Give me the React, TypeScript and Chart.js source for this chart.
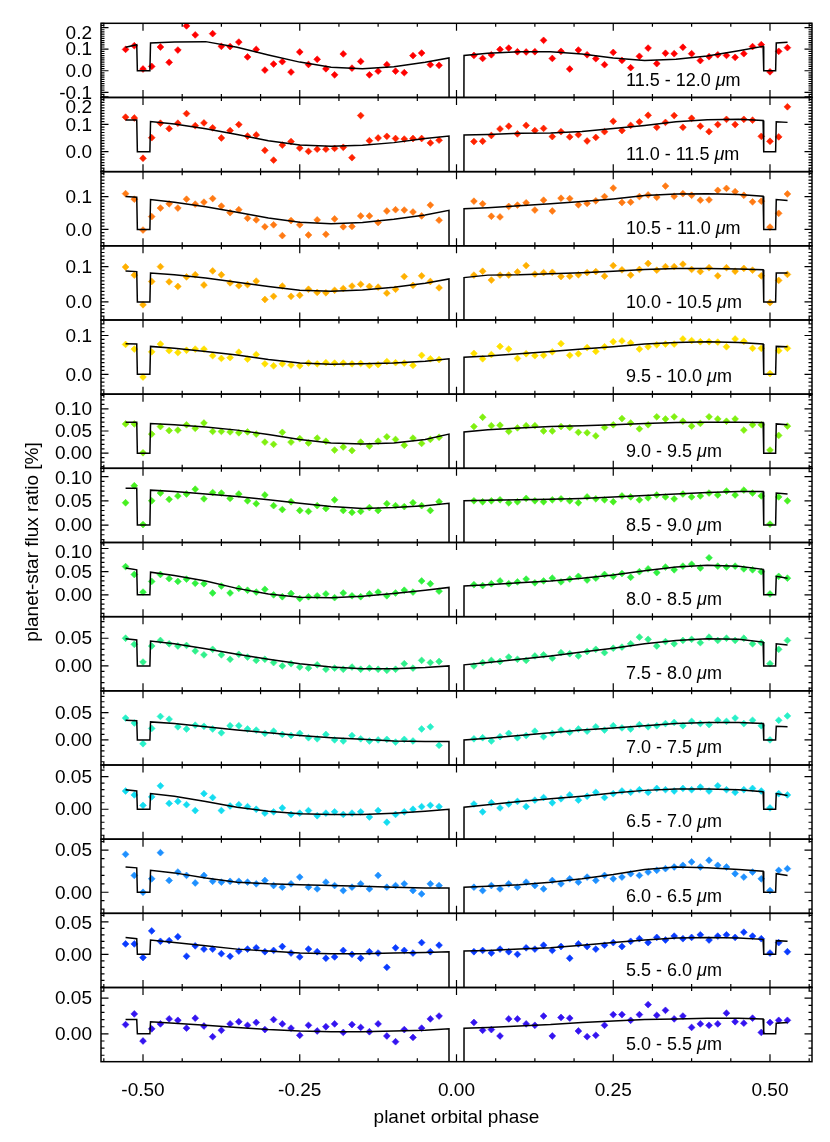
import React, { useEffect, useRef } from 'react';
import { Chart, registerables } from 'chart.js';

Chart.register(...registerables);

// ---------- data ----------
const phaseLeft = [
  -0.5278, -0.5139, -0.5, -0.4861, -0.4722, -0.4583, -0.4444, -0.4306, -0.4167, -0.4028,
  -0.3889, -0.375, -0.3611, -0.3472, -0.3333, -0.3194, -0.3056, -0.2917, -0.2778, -0.2639,
  -0.25, -0.2361, -0.2222, -0.2083, -0.1944, -0.1806, -0.1667, -0.1528, -0.1389, -0.125,
  -0.1111, -0.0972, -0.0833, -0.0694, -0.0556, -0.0417, -0.0278,
];
const phaseRight = [
  0.0278, 0.0417, 0.0556, 0.0694, 0.0833, 0.0972, 0.1111, 0.125, 0.1389, 0.1528,
  0.1667, 0.1806, 0.1944, 0.2083, 0.2222, 0.2361, 0.25, 0.2639, 0.2778, 0.2917,
  0.3056, 0.3194, 0.3333, 0.3472, 0.3611, 0.375, 0.3889, 0.4028, 0.4167, 0.4306,
  0.4444, 0.4583, 0.4722, 0.4861, 0.5, 0.5139, 0.5278,
];

const modelPhase = [
  -0.5278, -0.51, -0.488, -0.45, -0.4, -0.35, -0.3, -0.25, -0.2, -0.15, -0.1, -0.05, -0.012,
  0.012, 0.05, 0.1, 0.15, 0.2, 0.25, 0.3, 0.35, 0.4, 0.45, 0.489, 0.51, 0.528,
];
const eclipseLeftPhase = [-0.509, -0.489];
const eclipseRightPhase = [0.49, 0.509];
const transitPhase = [-0.011, 0.011];
const eclipseDepth = 0;
const transitDepth = -1;

const bandLabels = [
  '11.5 - 12.0', '11.0 - 11.5', '10.5 - 11.0', '10.0 - 10.5', '9.5 - 10.0', '9.0 - 9.5',
  '8.5 - 9.0', '8.0 - 8.5', '7.5 - 8.0', '7.0 - 7.5', '6.5 - 7.0', '6.0 - 6.5', '5.5 - 6.0', '5.0 - 5.5',
];
const bandColors = [
  '#ff0000', '#ff2200', '#ff7a14', '#ffb000', '#ffe000', '#80f010', '#48f020',
  '#30f040', '#30f08c', '#28f0c8', '#14dcf0', '#1e90ff', '#0a3cff', '#3414f0',
];

const yRanges = [
  [-0.124, 0.22], [-0.073, 0.198], [-0.05, 0.176], [-0.051, 0.159], [-0.051, 0.14],
  [-0.034, 0.133], [-0.036, 0.117], [-0.047, 0.113], [-0.045, 0.089], [-0.046, 0.09],
  [-0.046, 0.068], [-0.025, 0.063], [-0.051, 0.063], [-0.039, 0.065],
];
const yTickValues = [
  [-0.1, 0, 0.1, 0.2], [0, 0.1, 0.2], [0, 0.1], [0, 0.1], [0, 0.1],
  [0, 0.05, 0.1], [0, 0.05, 0.1], [0, 0.05, 0.1], [0, 0.05], [0, 0.05],
  [0, 0.05], [0, 0.05], [0, 0.05], [0, 0.05],
];
const yTickLabels = [
  ['-0.1', '0.0', '0.1', '0.2'], ['0.0', '0.1', '0.2'], ['0.0', '0.1'], ['0.0', '0.1'], ['0.0', '0.1'],
  ['0.00', '0.05', '0.10'], ['0.00', '0.05', '0.10'], ['0.00', '0.05', '0.10'], ['0.00', '0.05'], ['0.00', '0.05'],
  ['0.00', '0.05'], ['0.00', '0.05'], ['0.00', '0.05'], ['0.00', '0.05'],
];
const yMinorStep = [0.01, 0.01, 0.01, 0.01, 0.01, 0.01, 0.01, 0.01, 0.01, 0.01, 0.01, 0.01, 0.01, 0.01];

const xTickValues = [
  -0.5625, -0.5, -0.4375, -0.375, -0.3125, -0.25, -0.1875, -0.125, -0.0625, 0,
  0.0625, 0.125, 0.1875, 0.25, 0.3125, 0.375, 0.4375, 0.5, 0.5625,
];
const xMajorValues = [-0.5, -0.25, 0, 0.25, 0.5];
const xMajorLabels = ['-0.50', '-0.25', '0.00', '0.25', '0.50'];

// planet-star flux ratio [%], left half (37) then right half (37)
const flux1 = [
  0.099, 0.116, 0.008, 0.020, 0.110, 0.039, 0.096, 0.208, 0.166, null, 0.172, 0.113, 0.112, 0.133, 0.064, 0.099, 0.003, 0.031, 0.042, -0.006,
  0.087, 0.029, 0.053, 0.009, -0.019, 0.078, 0.012, 0.043, -0.019, -0.002, 0.028, -0.002, -0.009, 0.070, 0.082, 0.028, 0.025,
  0.071, 0.057, 0.074, 0.099, 0.105, 0.088, 0.087, 0.088, 0.141, 0.057, 0.090, 0.008, 0.096, 0.074, 0.056, 0.028, 0.085, 0.048, 0.014, 0.067,
  0.105, 0.033, 0.081, 0.079, 0.109, 0.079, 0.047, 0.065, 0.074, 0.071, 0.062, 0.079, 0.112, 0.121, -0.005, 0.090, 0.107,
];
const flux2 = [
  0.126, 0.123, -0.024, 0.051, 0.104, 0.084, 0.104, 0.139, 0.095, 0.105, 0.087, 0.050, 0.077, 0.099, 0.057, 0.061, 0.005, -0.031, 0.024, 0.037,
  0.013, 0.001, 0.009, 0.009, 0.012, 0.016, -0.022, 0.132, 0.040, 0.050, 0.056, 0.048, 0.046, 0.048, 0.048, 0.032, 0.042,
  0.037, 0.038, 0.059, 0.083, 0.093, 0.065, 0.096, 0.077, 0.085, 0.055, 0.073, 0.054, 0.062, 0.039, 0.052, 0.073, 0.111, 0.077, 0.096, 0.109,
  0.133, 0.089, 0.107, 0.132, 0.089, 0.122, 0.093, 0.073, 0.099, 0.118, 0.099, 0.118, 0.115, 0.056, 0.038, 0.054, 0.164,
];
const flux3 = [
  0.109, 0.092, -0.002, 0.039, 0.065, 0.078, 0.065, 0.092, 0.077, 0.083, 0.094, 0.071, 0.051, 0.060, 0.034, 0.029, 0.008, 0.014, -0.019, 0.027,
  0.014, -0.017, 0.029, -0.015, 0.032, 0.008, 0.009, 0.041, 0.041, 0.021, 0.056, 0.060, 0.059, 0.053, 0.041, 0.074, 0.028,
  0.086, 0.078, 0.040, 0.038, 0.070, 0.074, 0.081, 0.059, 0.089, 0.056, 0.095, 0.094, 0.075, 0.079, 0.087, 0.100, 0.126, 0.082, 0.083, 0.100,
  0.105, 0.098, 0.132, 0.101, 0.109, 0.104, 0.089, 0.090, 0.119, 0.125, 0.115, 0.104, 0.084, 0.086, 0.007, 0.049, 0.108,
];
const flux4 = [
  0.099, 0.076, -0.008, 0.058, 0.100, 0.057, 0.044, 0.071, 0.077, 0.048, 0.088, 0.077, 0.054, 0.046, 0.049, 0.059, 0.007, 0.016, 0.045, 0.016,
  0.019, 0.036, 0.027, 0.026, 0.033, 0.038, 0.045, 0.050, 0.044, 0.042, 0.025, 0.036, 0.072, 0.047, 0.074, 0.058, 0.040,
  0.076, 0.087, 0.062, 0.076, 0.076, 0.085, 0.103, 0.079, 0.083, 0.084, 0.072, 0.073, 0.077, 0.083, 0.086, 0.073, 0.103, 0.091, 0.076, 0.092,
  0.109, 0.090, 0.100, 0.100, 0.107, 0.092, 0.086, 0.097, 0.074, 0.097, 0.087, 0.095, 0.090, 0.074, -0.002, 0.061, 0.078,
];
const flux5 = [
  0.077, 0.065, -0.007, 0.058, 0.078, 0.061, 0.056, 0.062, 0.065, 0.065, 0.048, 0.041, 0.043, 0.057, 0.039, 0.051, 0.027, 0.022, 0.027, 0.024,
  0.022, 0.029, 0.027, 0.030, 0.029, 0.029, 0.027, 0.028, 0.023, 0.025, 0.033, 0.030, 0.029, 0.023, 0.049, 0.040, 0.038,
  0.054, 0.040, 0.051, 0.072, 0.065, 0.041, 0.053, 0.048, 0.049, 0.058, 0.079, 0.049, 0.053, 0.069, 0.059, 0.071, 0.084, 0.086, 0.081, 0.065,
  0.071, 0.076, 0.078, 0.078, 0.091, 0.087, 0.084, 0.084, 0.083, 0.071, 0.091, 0.085, 0.067, 0.067, 0.002, 0.061, 0.067,
];
const flux6 = [
  0.066, 0.066, 0.001, 0.043, 0.060, 0.051, 0.052, 0.064, 0.056, 0.068, 0.049, 0.049, 0.048, 0.046, 0.048, 0.043, 0.025, 0.020, 0.047, 0.025,
  0.033, 0.023, 0.034, 0.027, 0.007, 0.014, 0.006, 0.025, 0.016, 0.027, 0.037, 0.031, 0.018, 0.034, 0.022, 0.031, 0.036,
  0.060, 0.081, 0.062, 0.063, 0.049, 0.057, 0.062, 0.062, 0.050, 0.050, 0.060, 0.058, 0.047, 0.046, 0.039, 0.058, 0.064, 0.078, 0.068, 0.055,
  0.064, 0.082, 0.077, 0.082, 0.072, 0.061, 0.067, 0.082, 0.077, 0.072, 0.077, 0.052, 0.064, 0.064, 0.007, 0.040, 0.061,
];
const flux7 = [
  0.046, 0.081, 0.001, 0.050, 0.066, 0.053, 0.060, 0.064, 0.074, 0.054, 0.067, 0.066, 0.055, 0.064, 0.050, 0.044, 0.062, 0.040, 0.032, 0.048,
  0.030, 0.028, 0.040, 0.034, 0.052, 0.030, 0.026, 0.028, 0.036, 0.030, 0.044, 0.040, 0.038, 0.046, 0.040, 0.030, 0.048,
  0.050, 0.048, 0.050, 0.052, 0.046, 0.048, 0.055, 0.050, 0.048, 0.052, 0.054, 0.050, 0.046, 0.058, 0.054, 0.052, 0.048, 0.060, 0.058, 0.052,
  0.056, 0.062, 0.058, 0.054, 0.064, 0.058, 0.060, 0.066, 0.062, 0.070, 0.062, 0.072, 0.066, 0.060, 0.002, 0.058, 0.050,
];
const flux8 = [
  0.061, 0.044, 0.006, 0.029, 0.044, 0.035, 0.029, 0.034, 0.025, 0.024, 0.004, 0.019, 0.004, 0.014, 0.010, 0.006, 0.012, 0.000, -0.004, 0.003,
  -0.008, -0.004, -0.002, 0.002, -0.006, 0.004, -0.002, -0.004, 0.002, 0.006, -0.002, 0.004, 0.010, 0.006, 0.030, 0.024, 0.008,
  0.022, 0.020, 0.024, 0.030, 0.024, 0.028, 0.034, 0.026, 0.030, 0.036, 0.028, 0.034, 0.040, 0.032, 0.036, 0.044, 0.040, 0.046, 0.038, 0.050,
  0.056, 0.048, 0.060, 0.054, 0.062, 0.066, 0.058, 0.080, 0.062, 0.060, 0.062, 0.056, 0.054, 0.050, 0.002, 0.040, 0.036,
];
const flux9 = [
  0.050, 0.039, 0.007, 0.036, 0.046, 0.040, 0.036, 0.037, 0.027, 0.020, 0.030, 0.020, 0.012, 0.021, 0.016, 0.010, 0.012, 0.006, 0.000, 0.004,
  -0.002, -0.004, 0.002, -0.006, -0.004, -0.006, -0.002, -0.006, -0.004, -0.006, -0.008, -0.006, 0.004, -0.004, 0.010, 0.006, 0.008,
  0.000, 0.006, 0.010, 0.008, 0.016, 0.012, 0.010, 0.018, 0.020, 0.014, 0.024, 0.022, 0.018, 0.026, 0.030, 0.024, 0.032, 0.034, 0.040, 0.052,
  0.048, 0.036, 0.044, 0.040, 0.046, 0.048, 0.042, 0.052, 0.046, 0.050, 0.046, 0.050, 0.040, 0.042, 0.004, 0.030, 0.046,
];
const flux10 = [
  0.040, 0.031, -0.007, 0.021, 0.043, 0.038, 0.024, 0.020, 0.027, 0.025, 0.020, 0.013, 0.026, 0.026, 0.020, 0.018, 0.012, 0.016, 0.010, 0.008,
  0.012, 0.004, 0.002, 0.010, 0.000, -0.002, 0.008, 0.002, -0.002, 0.000, 0.001, -0.004, 0.001, -0.002, 0.020, 0.024, -0.010,
  0.002, 0.004, -0.002, 0.006, 0.012, 0.004, 0.008, 0.016, 0.006, 0.012, 0.018, 0.014, 0.020, 0.016, 0.024, 0.018, 0.026, 0.022, 0.020, 0.028,
  0.024, 0.026, 0.030, 0.032, 0.026, 0.034, 0.030, 0.028, 0.036, 0.034, 0.040, 0.030, 0.036, 0.026, 0.000, 0.036, 0.044,
];
const flux11 = [
  0.028, 0.022, 0.006, 0.019, 0.036, 0.009, 0.012, 0.007, -0.002, 0.024, 0.018, -0.002, 0.005, 0.007, 0.004, 0.000, -0.006, -0.004, 0.002, -0.008,
  -0.006, -0.002, -0.010, -0.006, -0.004, -0.008, -0.006, -0.004, -0.012, -0.002, -0.020, -0.008, -0.004, 0.000, 0.004, 0.006, 0.004,
  0.008, -0.004, 0.010, 0.002, 0.008, 0.012, 0.004, 0.014, 0.018, 0.010, 0.016, 0.022, 0.014, 0.020, 0.026, 0.018, 0.024, 0.028, 0.026, 0.030,
  0.026, 0.032, 0.030, 0.028, 0.032, 0.030, 0.034, 0.028, 0.036, 0.030, 0.026, 0.030, 0.032, 0.028, 0.002, 0.024, 0.022,
];
const flux12 = [
  0.045, 0.020, 0.000, 0.016, 0.047, 0.014, 0.024, 0.020, 0.011, 0.020, 0.013, 0.012, 0.013, 0.013, 0.012, 0.010, 0.014, 0.008, 0.006, 0.010,
  0.018, 0.006, 0.004, 0.012, 0.008, 0.002, 0.006, 0.010, 0.004, 0.020, 0.006, 0.008, 0.010, 0.002, -0.002, 0.010, 0.008,
  0.006, 0.002, 0.008, 0.004, 0.010, 0.006, 0.012, 0.008, 0.004, 0.014, 0.010, 0.016, 0.012, 0.018, 0.014, 0.020, 0.016, 0.018, 0.022, 0.020,
  0.024, 0.026, 0.028, 0.030, 0.032, 0.036, 0.030, 0.038, 0.032, 0.030, 0.022, 0.018, 0.024, 0.016, 0.002, 0.026, 0.028,
];
const flux13 = [
  0.016, 0.016, -0.005, 0.036, 0.020, 0.021, 0.027, -0.003, 0.013, 0.008, 0.008, 0.001, -0.003, 0.005, 0.008, 0.010, 0.004, 0.006, 0.012, 0.002,
  -0.004, 0.008, 0.004, -0.006, -0.004, 0.006, 0.000, -0.006, 0.004, 0.002, -0.020, 0.010, 0.006, 0.002, 0.018, 0.004, 0.014,
  0.004, 0.006, 0.002, 0.008, 0.004, 0.000, 0.010, 0.008, 0.014, 0.006, 0.012, -0.006, 0.016, 0.012, 0.008, 0.014, 0.018, 0.012, 0.020, 0.024,
  0.018, 0.026, 0.022, 0.028, 0.024, 0.026, 0.030, 0.022, 0.028, 0.030, 0.026, 0.034, 0.028, 0.024, 0.002, 0.018, 0.004,
];
const flux14 = [
  0.013, 0.028, -0.010, 0.007, 0.014, 0.021, 0.019, 0.008, 0.022, 0.011, -0.004, 0.005, 0.014, 0.017, 0.012, 0.016, 0.006, 0.020, 0.014, 0.008,
  -0.002, 0.012, 0.004, 0.010, 0.014, 0.002, 0.013, 0.009, 0.003, 0.014, -0.003, -0.011, 0.006, -0.005, 0.008, 0.021, 0.025,
  0.016, 0.005, 0.006, -0.003, 0.021, 0.021, 0.014, 0.012, 0.025, -0.003, 0.023, 0.022, 0.004, -0.004, -0.002, 0.012, 0.027, 0.027, 0.019, 0.027,
  0.041, 0.026, 0.033, 0.021, 0.025, 0.009, 0.014, 0.012, 0.014, 0.029, 0.017, 0.015, 0.022, 0.002, 0.016, 0.019, 0.019,
];

// best-fit phase-curve model, sampled at modelPhase
const model1 = [0.109, 0.121, 0.129, 0.133, 0.135, 0.109, 0.073, 0.040, 0.016, 0.009, 0.019, 0.039, 0.059, 0.071, 0.081, 0.088, 0.088, 0.078, 0.059, 0.048, 0.053, 0.068, 0.093, 0.113, 0.129, 0.132];
const model2 = [0.116, 0.116, 0.110, 0.101, 0.084, 0.063, 0.040, 0.024, 0.020, 0.023, 0.033, 0.048, 0.057, 0.061, 0.063, 0.067, 0.068, 0.074, 0.085, 0.096, 0.109, 0.117, 0.118, 0.114, 0.109, 0.107];
const model3 = [0.100, 0.098, 0.091, 0.083, 0.069, 0.052, 0.035, 0.022, 0.017, 0.021, 0.031, 0.044, 0.058, 0.063, 0.066, 0.072, 0.078, 0.085, 0.093, 0.103, 0.108, 0.109, 0.106, 0.101, 0.091, 0.088];
const model4 = [0.088, 0.086, 0.082, 0.077, 0.068, 0.056, 0.044, 0.033, 0.030, 0.034, 0.042, 0.053, 0.065, 0.069, 0.076, 0.077, 0.080, 0.083, 0.087, 0.092, 0.095, 0.095, 0.093, 0.091, 0.082, 0.082];
const model5 = [0.079, 0.078, 0.072, 0.067, 0.059, 0.050, 0.038, 0.029, 0.026, 0.027, 0.029, 0.034, 0.040, 0.044, 0.047, 0.053, 0.059, 0.065, 0.071, 0.078, 0.082, 0.084, 0.082, 0.078, 0.072, 0.071];
const model6 = [0.070, 0.070, 0.067, 0.064, 0.059, 0.052, 0.042, 0.031, 0.023, 0.021, 0.023, 0.031, 0.043, 0.048, 0.053, 0.057, 0.060, 0.062, 0.064, 0.067, 0.069, 0.070, 0.070, 0.069, 0.066, 0.064];
const model7 = [0.076, 0.076, 0.072, 0.069, 0.064, 0.059, 0.052, 0.045, 0.038, 0.034, 0.036, 0.040, 0.045, 0.050, 0.051, 0.052, 0.053, 0.055, 0.058, 0.061, 0.064, 0.067, 0.069, 0.069, 0.066, 0.064];
const model8 = [0.058, 0.054, 0.049, 0.042, 0.030, 0.014, 0.002, -0.005, -0.006, -0.003, 0.003, 0.010, 0.016, 0.019, 0.022, 0.026, 0.030, 0.036, 0.043, 0.052, 0.060, 0.064, 0.062, 0.055, 0.040, 0.036];
const model9 = [0.049, 0.047, 0.045, 0.040, 0.031, 0.021, 0.012, 0.004, -0.002, -0.005, -0.005, -0.003, 0.000, 0.002, 0.006, 0.012, 0.018, 0.025, 0.032, 0.040, 0.046, 0.049, 0.048, 0.043, 0.040, 0.038];
const model10 = [0.036, 0.035, 0.033, 0.030, 0.024, 0.018, 0.013, 0.008, 0.004, 0.001, -0.002, -0.003, -0.003, 0.000, 0.003, 0.008, 0.013, 0.018, 0.022, 0.026, 0.030, 0.032, 0.032, 0.030, 0.025, 0.024];
const model11 = [0.030, 0.028, 0.024, 0.020, 0.012, 0.003, -0.003, -0.007, -0.008, -0.008, -0.006, -0.003, 0.000, 0.003, 0.007, 0.012, 0.016, 0.020, 0.025, 0.029, 0.031, 0.031, 0.030, 0.027, 0.024, 0.021];
const model12 = [0.030, 0.029, 0.026, 0.023, 0.017, 0.012, 0.010, 0.009, 0.008, 0.007, 0.006, 0.005, 0.005, 0.006, 0.007, 0.009, 0.012, 0.016, 0.021, 0.027, 0.030, 0.029, 0.027, 0.025, 0.022, 0.020];
const model13 = [0.026, 0.024, 0.022, 0.018, 0.013, 0.008, 0.005, 0.002, 0.001, 0.001, 0.002, 0.003, 0.004, 0.005, 0.006, 0.008, 0.010, 0.014, 0.018, 0.022, 0.025, 0.026, 0.025, 0.023, 0.021, 0.020];
const model14 = [0.020, 0.020, 0.017, 0.015, 0.012, 0.009, 0.006, 0.004, 0.003, 0.003, 0.004, 0.005, 0.007, 0.008, 0.009, 0.011, 0.013, 0.016, 0.018, 0.020, 0.021, 0.022, 0.022, 0.021, 0.015, 0.016];

const fluxSeries = [flux1, flux2, flux3, flux4, flux5, flux6, flux7, flux8, flux9, flux10, flux11, flux12, flux13, flux14];
const modelSeries = [model1, model2, model3, model4, model5, model6, model7, model8, model9, model10, model11, model12, model13, model14];

// ---------- layout ----------
const W = 830;
const H = 1142;
const PLOT_LEFT = 101;
const PLOT_RIGHT = 812;
const PLOT_TOP = 23.3;
const PANEL_H = 74.17;
const X_MIN = -0.567;
const X_MAX = 0.567;
const FONT = '"Liberation Sans", Arial, Helvetica, sans-serif';

function buildModelLine(m: number[]) {
  const pts: { x: number; y: number }[] = [];
  modelPhase.forEach((p, k) => {
    if (k === 2) {
      pts.push({ x: eclipseLeftPhase[0], y: eclipseDepth });
      pts.push({ x: eclipseLeftPhase[1], y: eclipseDepth });
    }
    if (k === 13) {
      pts.push({ x: transitPhase[0], y: transitDepth });
      pts.push({ x: transitPhase[1], y: transitDepth });
    }
    if (k === 24) {
      pts.push({ x: eclipseRightPhase[0], y: eclipseDepth });
      pts.push({ x: eclipseRightPhase[1], y: eclipseDepth });
    }
    pts.push({ x: p, y: m[k] });
  });
  return pts;
}

function buildPoints(f: (number | null)[]) {
  const ph = [...phaseLeft, ...phaseRight];
  return ph.map((p, k) => ({ x: p, y: f[k] }));
}

function makeFramePlugin(i: number, isLast: boolean) {
  return {
    id: 'frame' + i,
    afterDatasetsDraw(chart: any) {
      const { ctx, chartArea } = chart;
      const { left, right, top, bottom } = chartArea;
      const xs = chart.scales.x;
      const ys = chart.scales.y;
      ctx.save();
      ctx.strokeStyle = '#000';
      ctx.lineWidth = 1.2;
      ctx.beginPath();
      xTickValues.forEach((v) => {
        const px = xs.getPixelForValue(v);
        const len = xMajorValues.indexOf(v) >= 0 ? 7.5 : 3.5;
        ctx.moveTo(px, top);
        ctx.lineTo(px, top + len);
        ctx.moveTo(px, bottom);
        ctx.lineTo(px, bottom - len);
      });
      const [lo, hi] = yRanges[i];
      const step = yMinorStep[i];
      for (let k = Math.ceil(lo / step - 1e-6); k * step <= hi + 1e-9; k++) {
        const py = ys.getPixelForValue(k * step);
        ctx.moveTo(left, py);
        ctx.lineTo(left + 3.5, py);
        ctx.moveTo(right, py);
        ctx.lineTo(right - 3.5, py);
      }
      yTickValues[i].forEach((v) => {
        const py = ys.getPixelForValue(v);
        ctx.moveTo(left, py);
        ctx.lineTo(left + 7.5, py);
        ctx.moveTo(right, py);
        ctx.lineTo(right - 7.5, py);
      });
      ctx.stroke();
      ctx.lineWidth = 1.5;
      ctx.strokeRect(left, top, right - left, bottom - top);

      ctx.fillStyle = '#000';
      ctx.font = '19px ' + FONT;
      ctx.textAlign = 'right';
      ctx.textBaseline = 'middle';
      yTickValues[i].forEach((v, k) => {
        const py = Math.max(ys.getPixelForValue(v), top + 9.2);
        ctx.fillText(yTickLabels[i][k], left - 9, py + 1);
      });

      // band label
      const ly = top + 57.5;
      let lx = 626;
      ctx.textAlign = 'left';
      ctx.font = '18px ' + FONT;
      const part1 = bandLabels[i] + ' ';
      ctx.fillText(part1, lx, ly);
      lx += ctx.measureText(part1).width;
      ctx.font = 'italic 18px ' + FONT;
      ctx.fillText('\u03bc', lx, ly);
      lx += ctx.measureText('\u03bc').width;
      ctx.font = '18px ' + FONT;
      ctx.fillText('m', lx, ly);

      if (isLast) {
        ctx.font = '19px ' + FONT;
        ctx.textAlign = 'center';
        xMajorValues.forEach((v, k) => {
          ctx.fillText(xMajorLabels[k], xs.getPixelForValue(v), bottom + 29.5);
        });
        ctx.fillText('planet orbital phase', (left + right) / 2, bottom + 56.5);
      }
      ctx.restore();
    },
  };
}

function Panel({ i }: { i: number }) {
  const ref = useRef<HTMLCanvasElement | null>(null);
  const isLast = i === fluxSeries.length - 1;
  const panelTop = PLOT_TOP + i * PANEL_H;
  const canvasTop = Math.floor(panelTop) - 14;
  const padTop = panelTop - canvasTop;
  const height = isLast ? H - canvasTop : Math.ceil(PANEL_H + 28);
  const padBottom = height - padTop - PANEL_H;

  useEffect(() => {
    if (!ref.current) return;
    const chart = new Chart(ref.current, {
      type: 'scatter',
      data: {
        datasets: [
          {
            data: buildModelLine(modelSeries[i]),
            showLine: true,
            borderColor: '#000',
            borderWidth: 1.5,
            pointRadius: 0,
            fill: false,
            clip: 0,
          } as any,
          {
            data: buildPoints(fluxSeries[i]),
            showLine: false,
            pointStyle: 'rectRot',
            pointRadius: 3.4,
            pointBorderWidth: 0.6,
            backgroundColor: bandColors[i],
            borderColor: bandColors[i],
            clip: 0,
          } as any,
        ],
      },
      options: {
        animation: false,
        responsive: false,
        devicePixelRatio: 1,
        events: [],
        layout: { padding: { left: PLOT_LEFT, right: W - PLOT_RIGHT, top: padTop, bottom: padBottom } },
        plugins: { legend: { display: false }, tooltip: { enabled: false } },
        scales: {
          x: { type: 'linear', min: X_MIN, max: X_MAX, display: false },
          y: { type: 'linear', min: yRanges[i][0], max: yRanges[i][1], display: false },
        },
      },
      plugins: [makeFramePlugin(i, isLast)],
    });
    return () => chart.destroy();
  }, []);

  return (
    <canvas
      ref={ref}
      width={W}
      height={height}
      style={{ position: 'absolute', left: 0, top: canvasTop, width: W, height }}
    />
  );
}

export default function App() {
  const midY = PLOT_TOP + (PANEL_H * fluxSeries.length) / 2;
  return (
    <div style={{ position: 'absolute', left: 0, top: 0, width: W, height: H, background: '#fff', overflow: 'hidden' }}>
      {fluxSeries.map((_, i) => (
        <Panel key={i} i={i} />
      ))}
      <div
        style={{
          position: 'absolute',
          left: 33 - 200,
          top: midY - 12,
          width: 400,
          height: 24,
          lineHeight: '24px',
          textAlign: 'center',
          transform: 'rotate(-90deg)',
          font: '19px ' + FONT,
          color: '#000',
          whiteSpace: 'nowrap',
        }}
      >
        planet-star flux ratio [%]
      </div>
    </div>
  );
}
